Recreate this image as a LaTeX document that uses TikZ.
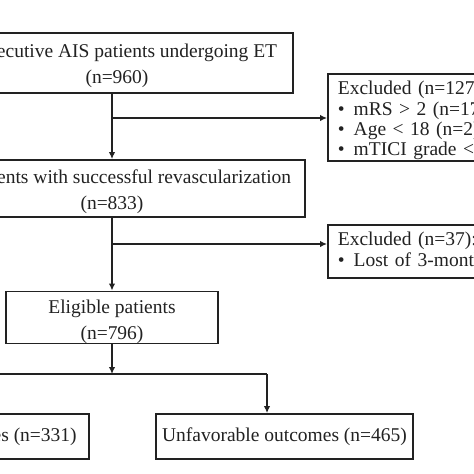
\documentclass[tikz,border=0pt]{standalone}
\usepackage{fontspec}
\setmainfont{Liberation Serif}
\usetikzlibrary{arrows.meta,calc}
\newcommand{\dn}[1]{\rule{0pt}{#1}}
\definecolor{ink}{HTML}{222222}
\tikzset{
  box/.style={draw=ink, line width=1.8pt, inner sep=0pt, align=center, text=ink, font=\fontsize{19.5}{26}\selectfont},
  exbox/.style={draw=ink, line width=1.8pt, anchor=north west, inner xsep=10pt, inner ysep=0pt, align=left, text=ink, text width=400pt, minimum width=420pt, font=\fontsize{19.5}{20.3}\selectfont},
  arr/.style={draw=ink, line width=1.8pt, -{Latex[length=7pt,width=6.5pt]}},
  ln/.style={draw=ink, line width=1.8pt}
}
\begin{document}
\begin{tikzpicture}[x=1pt,y=-1pt]
\useasboundingbox (0,0) rectangle (474,474);
\clip (0,0) rectangle (474,474);
\fill[white] (0,0) rectangle (474,474);
\node[box, minimum width=352pt, minimum height=60pt] (b1) at (117,63) {\dn{20pt}Consecutive AIS patients undergoing ET\\(n=960)};
\node[box, minimum width=386pt, minimum height=57pt] (b2) at (112,188.5) {\dn{21pt}\hspace*{34pt}Patients with successful revascularization\\(n=833)};
\node[box, minimum width=212pt, minimum height=45pt] (b3) at (112,317.5) {\dn{22pt}Eligible patients\\(n=796)};
\node[exbox, minimum height=87pt] (e1) at (327,73) {\dn{20pt}Excluded (n=127):\\\textbullet\hspace{9pt}mRS > 2 (n=17)\\\textbullet\hspace{9pt}Age < 18 (n=2)\\\textbullet\hspace{9pt}mTICI grade < 2b (n=108)};
\node[exbox, minimum height=53pt] (e2) at (327,224) {Excluded (n=37):\\\textbullet\hspace{9pt}Lost of 3-month follow-up (n=37)};
\node[box, minimum width=250pt, minimum height=45pt] (o1) at (-36,436.5) {\raisebox{-2pt}{Favorable outcomes (n=331)}};
\node[box, minimum width=257pt, minimum height=45pt] (o2) at (284.5,436.5) {\raisebox{-2pt}{Unfavorable outcomes (n=465)}};
\coordinate (j1) at (112,118);
\coordinate (j2) at (112,244);
\coordinate (j3) at (112,374);
\coordinate (jl) at (-43,374);
\coordinate (jr) at (267,374);
\draw[arr] (b1.south -| b3.north) -- (b2.north -| b3.north);
\draw[arr] (j1) -- (j1 -| e1.west);
\draw[arr] (b2.south -| b3.north) -- (b3.north);
\draw[arr] (j2) -- (j2 -| e2.west);
\draw[arr] (b3.south) -- (j3);
\draw[ln] (jl) -- (jr);
\draw[arr] (jr) -- (jr |- o2.north);
\draw[arr] (jl) -- (jl |- o1.north);
\end{tikzpicture}
\end{document}
